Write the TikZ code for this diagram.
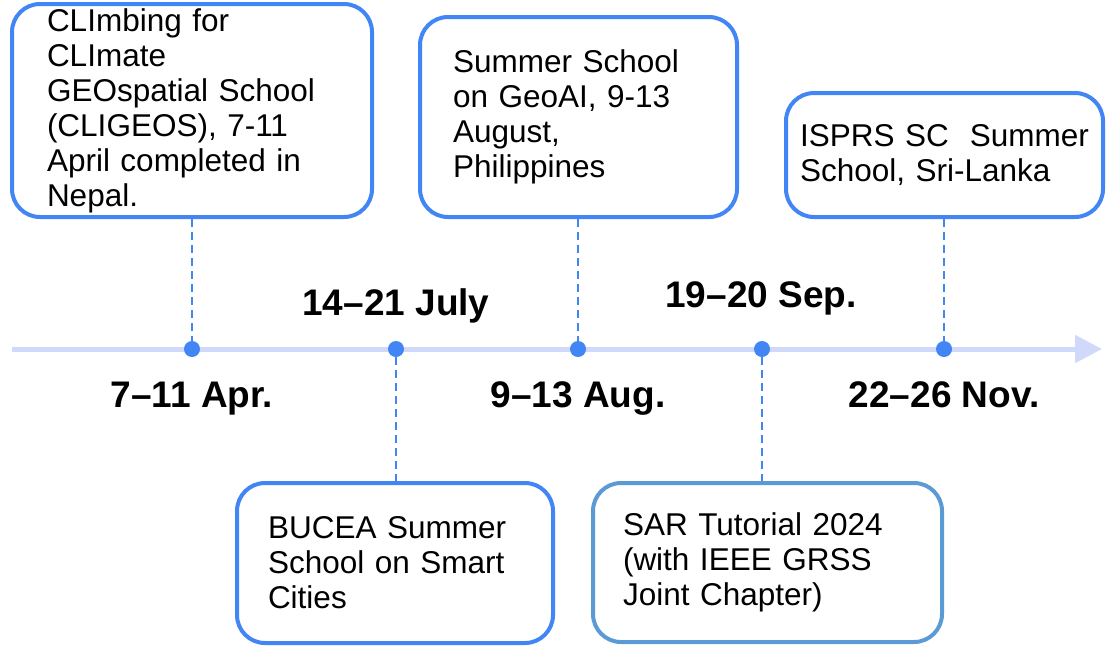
\documentclass[tikz,border=0pt]{standalone}
\usepackage{fontspec}
\setmainfont{Liberation Sans}
\usetikzlibrary{arrows.meta}
\definecolor{boxblue}{RGB}{66,133,244}
\definecolor{sarblue}{RGB}{91,155,213}
\definecolor{axisblue}{RGB}{208,217,250}
\tikzset{
  event/.style={draw=boxblue, line width=2pt, rounded corners=14pt, fill=white,
    align=left, inner ysep=2pt, font=\fontsize{15.75pt}{17.5pt}\selectfont},
  stemline/.style={boxblue, line width=1pt, dash pattern=on 4pt off 2.5pt},
  tldot/.style={circle, fill=boxblue, minimum size=8pt, inner sep=0pt},
  datelabel/.style={anchor=base, font=\fontsize{18.5pt}{20pt}\selectfont\bfseries}
}

\begin{document}
\begin{tikzpicture}[x=0.5pt, y=-0.5pt]
\useasboundingbox (0,0) rectangle (1112,645);
%\draw[step=50,gray,very thin] (0,0) grid (1112,645);
\coordinate (tstart) at (12,349);
\coordinate (tend) at (1102,349);
\draw[axisblue, line width=2.5pt, -{Triangle[length=13.5pt,width=13.5pt]}] (tstart) -- (tend);
\node[tldot] (dapr) at (192,349) {};
\node[tldot] (djul) at (396,349) {};
\node[tldot] (daug) at (578,349) {};
\node[tldot] (dsep) at (762,349) {};
\node[tldot] (dnov) at (944,349) {};
\node[event, minimum width=180pt, minimum height=106.5pt, text width=145pt, inner xsep=17.5pt] (cligeos) at (192,110.5)
  {CLImbing for\\CLImate\\GEOspatial School\\(CLIGEOS), 7-11\\April completed in\\Nepal.};
\node[event, minimum width=158.5pt, minimum height=100pt, text width=125.5pt, inner xsep=16.5pt] (geoai) at (578.5,117)
  {Summer School\\on GeoAI, 9-13\\August,\\Philippines};
\node[event, minimum width=158.5pt, minimum height=62pt, text width=144.5pt, inner xsep=7pt] (isprs) at (944.5,155)
  {\mbox{ISPRS SC\ \ Summer}\\School, Sri-Lanka};
\node[event, minimum width=158pt, minimum height=80pt, text width=127pt, inner xsep=15.5pt] (bucea) at (395,563)
  {BUCEA Summer\\School on Smart\\Cities};
\node[event, draw=sarblue, minimum width=174.5pt, minimum height=79.5pt, text width=144.5pt, inner xsep=15pt] (sar) at (767.5,562.5)
  {SAR Tutorial 2024\\(with IEEE GRSS\\Joint Chapter)};
\draw[stemline] (dapr |- cligeos.south) -- (dapr);
\draw[stemline] (daug |- geoai.south) -- (daug);
\draw[stemline] (dnov |- isprs.south) -- (dnov);
\draw[stemline] (djul) -- (djul |- bucea.north);
\draw[stemline] (dsep) -- (dsep |- sar.north);
\node[datelabel] (lapr) at (192,407) {7--11 Apr.};
\node[datelabel] (ljul) at (396,315) {14--21 July};
\node[datelabel] (laug) at (578,407) {9--13 Aug.};
\node[datelabel] (lsep) at (761,307) {19--20 Sep.};
\node[datelabel] (lnov) at (944,407) {22--26 Nov.};
\end{tikzpicture}
\end{document}
